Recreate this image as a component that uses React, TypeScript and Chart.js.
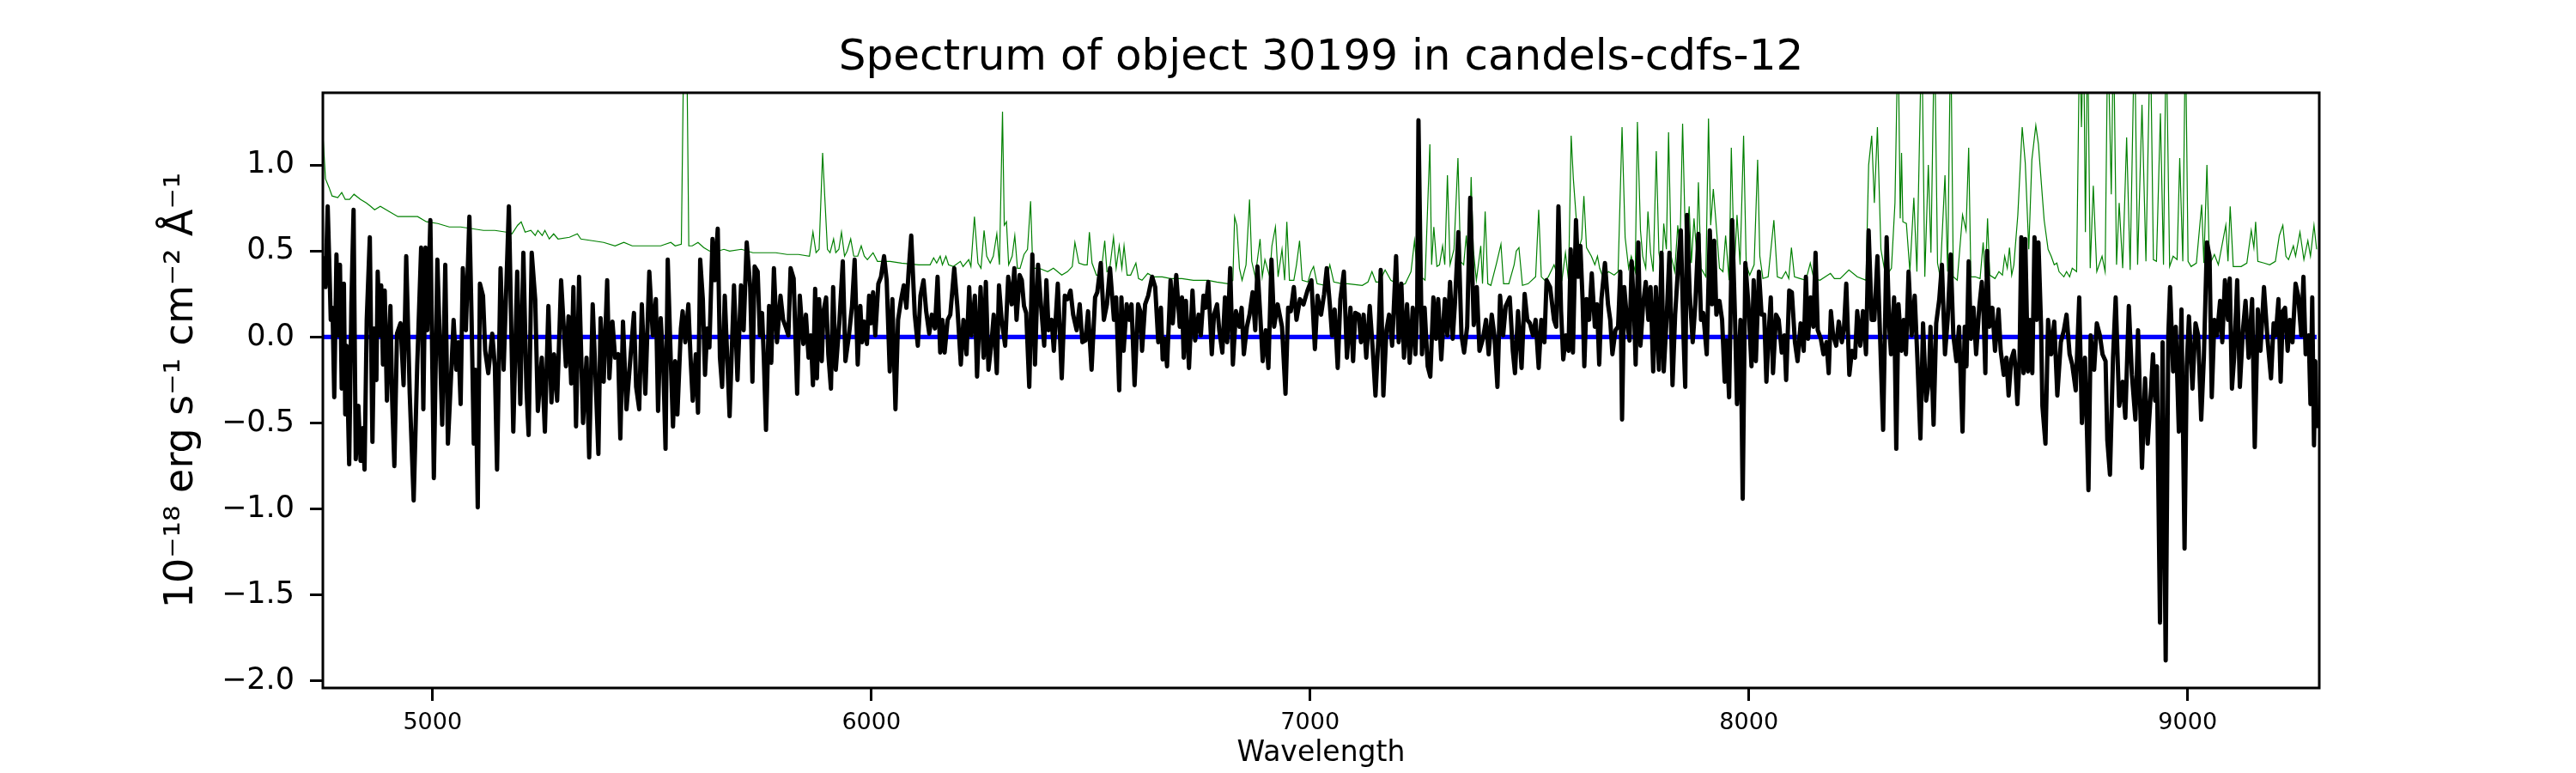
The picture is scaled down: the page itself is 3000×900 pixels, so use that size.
import { useEffect, useRef } from "react"
import { Chart, registerables } from "chart.js"

Chart.register(...registerables)

const FONT = "'DejaVu Sans', sans-serif"

const TITLE = "Spectrum of object 30199 in candels-cdfs-12"
const X_LABEL = "Wavelength"
const Y_LABEL = "10⁻¹⁸ erg s⁻¹ cm⁻² Å⁻¹"

const xTicks = [5000, 6000, 7000, 8000, 9000]
const yTicks = [-2.0, -1.5, -1.0, -0.5, 0.0, 0.5, 1.0]

// observed flux, [wavelength, value]
const fluxPoints: [number, number][] = [
  [4751, 0.47], [4756, 0.29], [4761, 0.76], [4765, 0.4], [4768, 0.1], [4772, 0.17], [4776, -0.35], [4781, 0.48], [4785, 0.01], [4789, 0.42],
  [4793, -0.3], [4798, 0.31], [4801, -0.45], [4804, -0.05], [4810, -0.74], [4815, 0.19], [4820, 0.74], [4825, -0.71], [4831, -0.4], [4836, -0.72],
  [4841, -0.53], [4845, -0.77], [4850, 0.1], [4857, 0.58], [4863, -0.61], [4867, 0.05], [4872, -0.25], [4875, 0.38], [4880, 0.01], [4883, 0.3],
  [4887, -0.16], [4891, 0.27], [4896, -0.37], [4904, 0.18], [4908, -0.37], [4913, -0.75], [4919, 0.02], [4927, 0.08], [4934, -0.28], [4940, 0.47],
  [4948, -0.33], [4957, -0.95], [4965, -0.17], [4974, 0.52], [4979, -0.42], [4984, 0.52], [4988, 0.04], [4995, 0.68], [5003, -0.82], [5011, 0.45],
  [5022, -0.51], [5029, 0.42], [5035, -0.62], [5042, -0.24], [5048, 0.1], [5054, -0.19], [5059, -0.03], [5064, -0.39], [5069, 0.4], [5076, 0.04],
  [5084, 0.7], [5089, 0.1], [5094, -0.62], [5098, -0.19], [5103, -0.99], [5108, 0.31], [5115, 0.24], [5120, -0.08], [5127, -0.21], [5136, 0.02],
  [5142, -0.17], [5147, -0.77], [5155, 0.4], [5162, -0.19], [5174, 0.76], [5184, -0.55], [5193, 0.38], [5200, -0.39], [5207, 0.49], [5214, -0.3],
  [5219, -0.57], [5226, 0.49], [5234, 0.22], [5240, -0.43], [5249, -0.12], [5256, -0.55], [5264, 0.18], [5271, -0.38], [5277, -0.1], [5284, -0.37],
  [5293, 0.33], [5304, -0.17], [5310, 0.12], [5316, -0.27], [5321, 0.29], [5327, -0.52], [5334, 0.35], [5343, -0.5], [5351, -0.12], [5357, -0.7],
  [5365, 0.19], [5372, -0.27], [5378, -0.68], [5383, 0.11], [5390, -0.26], [5398, 0.33], [5403, -0.24], [5410, 0.09], [5416, -0.12], [5423, -0.1],
  [5428, -0.59], [5434, 0.09], [5442, -0.42], [5451, -0.12], [5459, 0.14], [5464, -0.29], [5471, -0.42], [5477, 0.19], [5485, -0.33], [5494, 0.38],
  [5502, 0.01], [5509, 0.22], [5514, -0.43], [5520, 0.11], [5526, -0.17], [5531, -0.65], [5536, 0.45], [5543, -0.14], [5548, -0.52], [5553, -0.14],
  [5558, -0.45], [5566, 0.05], [5570, 0.15], [5576, -0.03], [5583, 0.19], [5588, -0.12], [5593, -0.37], [5600, -0.1], [5605, -0.44], [5610, 0.45],
  [5616, 0.22], [5621, -0.22], [5626, 0.05], [5631, -0.06], [5638, 0.57], [5643, 0.33], [5650, 0.63], [5655, -0.12], [5660, -0.29], [5666, 0.24],
  [5677, -0.46], [5687, 0.3], [5695, -0.25], [5703, 0.3], [5709, 0.04], [5716, 0.55], [5724, 0.29], [5729, -0.26], [5734, 0.41], [5741, 0.38],
  [5746, 0.01], [5751, 0.14], [5755, -0.12], [5760, -0.54], [5767, 0.18], [5772, -0.15], [5778, 0.4], [5785, -0.03], [5793, 0.24], [5799, 0.1],
  [5806, 0.05], [5811, 0.01], [5816, 0.4], [5823, 0.34], [5831, -0.33], [5837, 0.24], [5845, -0.04], [5851, 0.13], [5857, -0.12], [5862, 0.01],
  [5867, -0.28], [5872, 0.28], [5876, -0.24], [5881, 0.22], [5887, -0.14], [5891, 0.15], [5897, 0.23], [5902, -0.1], [5908, -0.3], [5913, 0.29],
  [5919, -0.19], [5927, 0.08], [5935, 0.44], [5941, -0.14], [5949, 0.01], [5956, 0.18], [5962, 0.45], [5969, -0.16], [5975, 0.18], [5979, -0.03],
  [5984, 0.09], [5990, -0.04], [5995, 0.24], [5999, 0.08], [6004, 0.26], [6009, 0.01], [6016, 0.31], [6022, 0.35], [6029, 0.47], [6035, 0.33],
  [6042, -0.2], [6048, 0.22], [6055, -0.42], [6061, 0.1], [6068, 0.22], [6074, 0.3], [6080, 0.17], [6085, 0.38], [6091, 0.59], [6099, 0.13],
  [6106, -0.05], [6112, 0.24], [6119, 0.33], [6125, 0.15], [6132, 0.02], [6138, 0.13], [6145, 0.05], [6151, 0.35], [6157, -0.09], [6162, 0.1],
  [6167, -0.09], [6174, 0.1], [6180, 0.13], [6189, 0.4], [6196, 0.18], [6204, -0.16], [6210, 0.1], [6217, -0.1], [6223, 0.29], [6228, 0.01],
  [6236, 0.24], [6241, -0.23], [6249, 0.29], [6256, -0.12], [6261, 0.32], [6267, -0.19], [6274, -0.03], [6279, 0.13], [6286, -0.21], [6291, 0.3],
  [6297, 0.1], [6305, -0.05], [6312, 0.35], [6320, 0.19], [6326, 0.4], [6331, 0.1], [6338, 0.36], [6343, 0.33], [6348, 0.18], [6353, 0.14],
  [6360, -0.29], [6367, 0.48], [6373, -0.16], [6380, 0.42], [6386, 0.21], [6394, -0.05], [6399, 0.33], [6404, 0.04], [6411, 0.1], [6416, -0.08],
  [6425, 0.31], [6434, -0.24], [6441, 0.24], [6447, 0.22], [6454, 0.27], [6460, 0.13], [6468, 0.04], [6475, 0.19], [6481, -0.03], [6488, -0.02],
  [6494, 0.15], [6502, -0.19], [6510, 0.23], [6515, 0.26], [6523, 0.43], [6530, 0.1], [6537, 0.19], [6544, 0.4], [6553, 0.1], [6558, 0.23],
  [6565, -0.31], [6570, 0.23], [6575, -0.08], [6582, 0.19], [6588, 0.1], [6593, 0.19], [6600, -0.28], [6608, 0.19], [6613, 0.15], [6617, -0.08],
  [6624, 0.19], [6631, 0.24], [6640, 0.35], [6647, 0.29], [6654, -0.03], [6660, 0.17], [6664, -0.13], [6669, -0.01], [6674, -0.17], [6682, 0.33],
  [6687, 0.08], [6695, 0.36], [6703, 0.06], [6708, 0.23], [6712, -0.12], [6717, 0.21], [6724, -0.18], [6732, 0.27], [6738, -0.02], [6746, 0.13],
  [6751, 0.01], [6757, 0.24], [6762, 0.17], [6768, 0.32], [6776, -0.1], [6781, 0.13], [6788, 0.19], [6793, 0.04], [6800, -0.09], [6806, 0.23],
  [6811, -0.03], [6818, 0.4], [6824, -0.16], [6831, 0.15], [6839, 0.06], [6844, 0.17], [6849, -0.1], [6856, 0.06], [6862, 0.13], [6869, 0.26],
  [6875, 0.04], [6880, 0.41], [6887, 0.1], [6892, -0.14], [6899, 0.04], [6905, -0.18], [6912, 0.45], [6918, 0.06], [6926, 0.19], [6936, 0.06],
  [6944, -0.33], [6950, 0.17], [6956, 0.15], [6963, 0.29], [6969, 0.1], [6977, 0.22], [6985, 0.19], [6994, 0.27], [7003, 0.33], [7011, -0.07],
  [7017, 0.24], [7025, 0.13], [7032, 0.25], [7038, 0.4], [7045, 0.19], [7050, 0.01], [7056, 0.16], [7063, -0.18], [7069, 0.22], [7077, 0.38],
  [7084, -0.12], [7092, 0.17], [7098, -0.14], [7103, 0.14], [7111, 0.13], [7116, -0.03], [7122, 0.13], [7128, -0.12], [7136, 0.18], [7143, -0.08],
  [7149, -0.34], [7156, 0.01], [7161, 0.39], [7167, -0.34], [7174, 0.04], [7180, 0.13], [7187, -0.05], [7196, 0.47], [7202, -0.03], [7208, 0.31],
  [7214, -0.12], [7221, 0.19], [7227, -0.15], [7234, 0.17], [7240, -0.1], [7244, 0.16], [7247, 1.26], [7251, 0.56], [7255, -0.1], [7261, 0.17],
  [7268, -0.17], [7274, -0.23], [7281, 0.23], [7287, -0.01], [7292, 0.22], [7299, -0.13], [7307, 0.22], [7313, 0.01], [7319, 0.32], [7325, -0.01],
  [7330, 0.19], [7338, 0.61], [7345, 0.01], [7351, -0.09], [7358, 0.06], [7365, 0.81], [7373, 0.07], [7380, 0.29], [7386, -0.08], [7394, -0.01],
  [7401, 0.1], [7407, -0.1], [7414, 0.13], [7420, 0.01], [7427, -0.29], [7433, 0.24], [7440, 0.01], [7446, 0.18], [7455, 0.23], [7462, -0.08],
  [7467, -0.21], [7474, 0.15], [7482, -0.18], [7489, 0.25], [7495, 0.1], [7501, 0.08], [7508, 0.01], [7514, 0.1], [7521, -0.18], [7527, 0.1],
  [7534, -0.03], [7539, 0.33], [7547, 0.29], [7556, 0.1], [7561, 0.06], [7566, 0.76], [7572, 0.15], [7577, -0.13], [7583, 0.01], [7589, -0.08],
  [7594, 0.51], [7599, -0.09], [7606, 0.68], [7611, 0.35], [7616, 0.53], [7621, 0.22], [7625, -0.17], [7630, 0.22], [7636, 0.1], [7642, 0.37],
  [7649, 0.06], [7654, 0.19], [7659, -0.16], [7664, 0.22], [7672, 0.43], [7679, 0.19], [7684, 0.1], [7689, -0.1], [7696, 0.04], [7702, 0.06],
  [7707, 0.38], [7711, -0.48], [7716, 0.29], [7723, 0.08], [7728, -0.02], [7733, 0.44], [7739, 0.1], [7742, -0.16], [7748, 0.55], [7753, -0.05],
  [7759, 0.19], [7765, 0.32], [7771, 0.1], [7776, 0.29], [7782, -0.2], [7788, 0.29], [7795, -0.19], [7801, 0.49], [7806, -0.2], [7813, 0.13],
  [7819, 0.49], [7826, -0.28], [7832, 0.13], [7839, 0.42], [7845, 0.62], [7851, 0.01], [7855, -0.29], [7859, 0.71], [7865, 0.26], [7872, -0.03],
  [7878, 0.19], [7885, 0.6], [7891, 0.1], [7896, 0.14], [7904, -0.1], [7911, 0.62], [7916, 0.19], [7921, 0.56], [7926, 0.13], [7933, 0.21],
  [7939, 0.1], [7945, -0.26], [7949, -0.02], [7955, -0.35], [7962, 0.68], [7968, 0.15], [7973, -0.39], [7981, 0.1], [7986, -0.94], [7992, 0.43],
  [7999, 0.19], [8006, -0.17], [8011, 0.33], [8016, -0.14], [8023, 0.38], [8029, 0.13], [8035, 0.13], [8040, -0.26], [8046, 0.06], [8050, 0.23],
  [8055, -0.21], [8062, 0.13], [8068, 0.1], [8075, -0.09], [8081, 0.01], [8085, -0.25], [8092, 0.27], [8098, 0.26], [8105, -0.03], [8111, -0.14],
  [8118, 0.08], [8125, -0.08], [8130, 0.35], [8135, -0.01], [8141, 0.23], [8147, 0.06], [8152, 0.49], [8157, 0.04], [8164, -0.01], [8170, -0.1],
  [8177, -0.03], [8182, -0.21], [8187, 0.15], [8192, 0.01], [8199, -0.05], [8205, 0.09], [8212, -0.03], [8217, 0.06], [8222, 0.31], [8229, -0.22],
  [8235, -0.08], [8242, -0.12], [8247, 0.15], [8254, -0.05], [8260, 0.15], [8267, -0.1], [8273, 0.62], [8280, 0.1], [8286, 0.1], [8293, 0.47],
  [8299, 0.01], [8306, -0.54], [8314, 0.58], [8320, 0.06], [8324, -0.1], [8331, 0.23], [8336, -0.65], [8341, 0.19], [8348, -0.08], [8353, 0.1],
  [8358, -0.1], [8364, 0.38], [8371, 0.01], [8378, 0.24], [8384, -0.12], [8391, -0.59], [8397, 0.08], [8404, -0.37], [8410, -0.26], [8414, 0.06],
  [8421, -0.51], [8427, 0.08], [8434, 0.22], [8440, 0.42], [8447, -0.1], [8453, 0.1], [8460, 0.48], [8466, 0.01], [8473, -0.14], [8479, 0.06],
  [8487, -0.55], [8492, 0.06], [8496, -0.17], [8501, 0.44], [8506, -0.01], [8512, 0.17], [8518, -0.1], [8525, 0.17], [8531, 0.32], [8535, 0.13],
  [8539, -0.21], [8543, 0.5], [8548, 0.06], [8555, 0.17], [8561, -0.08], [8569, 0.16], [8574, -0.08], [8581, -0.22], [8587, -0.12], [8592, -0.34],
  [8598, -0.13], [8604, -0.08], [8608, -0.19], [8612, -0.39], [8617, -0.12], [8621, 0.58], [8626, -0.21], [8630, 0.57], [8636, -0.2], [8641, 0.1],
  [8646, -0.21], [8651, 0.58], [8656, 0.1], [8660, 0.55], [8666, 0.06], [8669, -0.4], [8676, -0.62], [8682, 0.1], [8689, -0.1], [8696, 0.09],
  [8703, -0.34], [8711, -0.03], [8718, 0.04], [8724, 0.13], [8731, -0.1], [8737, -0.16], [8745, -0.31], [8753, 0.23], [8759, -0.5], [8766, -0.12],
  [8769, -0.39], [8774, -0.89], [8779, 0.01], [8787, -0.19], [8793, 0.08], [8800, 0.01], [8806, -0.1], [8813, -0.14], [8817, -0.6], [8823, -0.8],
  [8830, -0.12], [8836, 0.23], [8844, -0.4], [8852, -0.26], [8858, -0.47], [8866, 0.18], [8873, -0.22], [8881, -0.48], [8887, 0.04], [8896, -0.76],
  [8903, -0.24], [8909, -0.62], [8916, -0.33], [8921, -0.1], [8926, -0.37], [8930, -0.17], [8937, -1.66], [8943, -0.03], [8950, -1.88], [8956, 0.01],
  [8960, 0.29], [8967, -0.2], [8973, 0.06], [8980, -0.55], [8986, 0.16], [8993, -1.23], [8998, -0.17], [9003, 0.12], [9011, -0.3], [9018, 0.08],
  [9024, 0.01], [9031, -0.48], [9037, -0.12], [9044, 0.55], [9050, 0.47], [9055, -0.35], [9061, 0.1], [9067, 0.01], [9074, 0.21], [9079, -0.03],
  [9085, 0.33], [9092, 0.1], [9096, 0.34], [9101, -0.3], [9106, -0.12], [9113, 0.33], [9119, -0.29], [9126, 0.04], [9132, 0.21], [9139, -0.12],
  [9147, 0.22], [9153, -0.64], [9160, 0.16], [9166, -0.08], [9174, 0.29], [9182, -0.01], [9190, -0.24], [9196, 0.08], [9201, 0.01], [9207, 0.22],
  [9212, -0.26], [9217, 0.15], [9222, 0.17], [9228, -0.08], [9233, 0.1], [9239, -0.03], [9246, 0.31], [9252, 0.24], [9259, 0.01], [9264, 0.35],
  [9269, -0.1], [9276, 0.01], [9280, -0.39], [9284, 0.23], [9288, -0.63], [9291, -0.14], [9294, -0.53],
]

// flux uncertainty, [wavelength, value]; sky lines run off the top of the axes
const errorPoints: [number, number][] = [
  [4750, 1.18], [4756, 0.92], [4764, 0.87], [4771, 0.82], [4784, 0.81], [4793, 0.84], [4801, 0.8], [4811, 0.8], [4821, 0.83], [4836, 0.8],
  [4849, 0.78], [4859, 0.76], [4868, 0.74], [4881, 0.76], [4901, 0.73], [4921, 0.7], [4947, 0.7], [4966, 0.7], [4986, 0.67], [5012, 0.66],
  [5038, 0.64], [5064, 0.64], [5090, 0.63], [5116, 0.62], [5142, 0.62], [5168, 0.61], [5181, 0.6], [5194, 0.65], [5202, 0.67], [5211, 0.61],
  [5224, 0.62], [5234, 0.59], [5240, 0.62], [5250, 0.59], [5256, 0.62], [5266, 0.57], [5276, 0.6], [5286, 0.57], [5312, 0.58], [5330, 0.6],
  [5338, 0.57], [5364, 0.56], [5390, 0.55], [5416, 0.53], [5436, 0.55], [5455, 0.53], [5488, 0.53], [5520, 0.53], [5543, 0.55], [5553, 0.53],
  [5567, 0.54], [5573, 1.8], [5579, 1.8], [5584, 0.53], [5592, 0.53], [5605, 0.55], [5618, 0.52], [5631, 0.5], [5651, 0.5], [5664, 0.51],
  [5677, 0.5], [5704, 0.51], [5730, 0.49], [5756, 0.49], [5782, 0.49], [5808, 0.48], [5834, 0.48], [5859, 0.47], [5867, 0.61], [5874, 0.49],
  [5881, 0.51], [5889, 1.07], [5894, 0.81], [5900, 0.51], [5906, 0.49], [5914, 0.57], [5919, 0.49], [5926, 0.51], [5932, 0.61], [5939, 0.47],
  [5945, 0.5], [5953, 0.57], [5960, 0.47], [5969, 0.47], [5977, 0.53], [5984, 0.47], [5991, 0.45], [6004, 0.49], [6014, 0.44], [6043, 0.44],
  [6069, 0.43], [6108, 0.42], [6134, 0.42], [6142, 0.46], [6149, 0.43], [6157, 0.47], [6162, 0.42], [6170, 0.47], [6176, 0.42], [6187, 0.41],
  [6203, 0.44], [6209, 0.41], [6222, 0.45], [6227, 0.41], [6235, 0.7], [6243, 0.43], [6250, 0.4], [6257, 0.62], [6263, 0.47], [6271, 0.43],
  [6278, 0.47], [6286, 0.6], [6292, 0.42], [6299, 1.31], [6303, 0.65], [6308, 0.67], [6313, 0.42], [6321, 0.47], [6327, 0.59], [6333, 0.4],
  [6339, 0.4], [6348, 0.48], [6356, 0.51], [6363, 0.79], [6368, 0.4], [6382, 0.4], [6402, 0.38], [6415, 0.4], [6434, 0.36], [6447, 0.38],
  [6458, 0.41], [6464, 0.55], [6473, 0.43], [6485, 0.42], [6492, 0.42], [6497, 0.61], [6503, 0.43], [6513, 0.36], [6523, 0.36], [6532, 0.56],
  [6537, 0.38], [6543, 0.39], [6552, 0.58], [6558, 0.4], [6565, 0.53], [6571, 0.4], [6576, 0.53], [6583, 0.36], [6591, 0.36], [6603, 0.43],
  [6609, 0.34], [6617, 0.33], [6630, 0.37], [6643, 0.35], [6663, 0.35], [6682, 0.34], [6708, 0.34], [6734, 0.33], [6767, 0.33], [6787, 0.32],
  [6813, 0.31], [6824, 0.33], [6828, 0.7], [6833, 0.65], [6839, 0.4], [6845, 0.33], [6854, 0.42], [6862, 0.8], [6867, 0.44], [6875, 0.35],
  [6886, 0.57], [6891, 0.35], [6897, 0.45], [6908, 0.35], [6913, 0.53], [6921, 0.64], [6927, 0.35], [6936, 0.51], [6942, 0.33], [6947, 0.67],
  [6953, 0.33], [6963, 0.33], [6969, 0.42], [6976, 0.56], [6982, 0.33], [6995, 0.32], [7002, 0.38], [7008, 0.41], [7016, 0.31], [7034, 0.3],
  [7045, 0.42], [7054, 0.32], [7073, 0.31], [7086, 0.31], [7119, 0.3], [7132, 0.32], [7141, 0.38], [7150, 0.32], [7158, 0.32], [7171, 0.39],
  [7184, 0.33], [7204, 0.3], [7217, 0.31], [7230, 0.38], [7238, 0.56], [7246, 0.33], [7253, 0.35], [7262, 0.33], [7273, 1.12], [7277, 0.42],
  [7282, 0.64], [7289, 0.41], [7295, 0.42], [7302, 0.53], [7307, 0.42], [7313, 0.94], [7319, 0.42], [7328, 0.51], [7337, 1.04], [7343, 0.44],
  [7350, 0.42], [7356, 0.59], [7362, 0.35], [7367, 0.93], [7372, 0.51], [7379, 0.33], [7389, 0.53], [7393, 0.31], [7399, 0.73], [7405, 0.31],
  [7412, 0.3], [7425, 0.43], [7435, 0.54], [7441, 0.31], [7453, 0.31], [7465, 0.42], [7470, 0.5], [7476, 0.52], [7484, 0.3], [7497, 0.31],
  [7514, 0.35], [7521, 0.74], [7527, 0.35], [7535, 0.33], [7543, 0.35], [7556, 0.42], [7565, 0.35], [7574, 0.33], [7582, 0.49], [7589, 0.33],
  [7595, 1.17], [7600, 0.92], [7606, 0.71], [7612, 0.51], [7619, 0.57], [7624, 0.82], [7630, 0.52], [7641, 0.47], [7649, 0.42], [7655, 0.47],
  [7660, 0.4], [7667, 0.35], [7680, 0.38], [7693, 0.36], [7702, 0.38], [7711, 1.22], [7718, 0.58], [7726, 0.4], [7732, 0.47], [7741, 0.38],
  [7746, 1.25], [7753, 0.62], [7758, 0.47], [7765, 0.4], [7770, 0.73], [7776, 0.49], [7782, 0.38], [7789, 1.08], [7795, 0.49], [7802, 0.38],
  [7806, 0.66], [7812, 0.51], [7817, 1.19], [7823, 0.47], [7831, 0.38], [7838, 0.65], [7843, 0.51], [7849, 1.24], [7856, 0.49], [7864, 0.76],
  [7869, 0.43], [7875, 0.69], [7881, 0.49], [7885, 0.9], [7891, 0.4], [7902, 0.35], [7908, 1.27], [7913, 0.65], [7919, 0.86], [7925, 0.67],
  [7933, 0.4], [7941, 0.38], [7947, 0.59], [7955, 0.33], [7960, 1.1], [7967, 0.4], [7973, 0.71], [7980, 0.42], [7988, 1.17], [7994, 0.42],
  [8002, 0.36], [8012, 0.42], [8020, 1.03], [8025, 0.47], [8032, 0.34], [8044, 0.35], [8057, 0.68], [8065, 0.35], [8075, 0.34], [8084, 0.38],
  [8091, 0.34], [8097, 0.52], [8104, 0.35], [8117, 0.34], [8130, 0.33], [8140, 0.43], [8148, 0.34], [8162, 0.33], [8186, 0.37], [8195, 0.34],
  [8208, 0.34], [8228, 0.39], [8247, 0.35], [8267, 0.33], [8273, 1.0], [8280, 1.17], [8286, 0.78], [8293, 1.22], [8301, 0.51], [8312, 0.35],
  [8325, 0.4], [8333, 0.78], [8340, 1.8], [8345, 0.69], [8348, 1.07], [8351, 0.67], [8359, 0.66], [8367, 0.38], [8376, 0.81], [8383, 0.38],
  [8394, 1.8], [8401, 0.35], [8409, 1.0], [8415, 0.49], [8423, 1.8], [8430, 0.43], [8436, 0.35], [8447, 0.94], [8453, 0.38], [8460, 1.8],
  [8466, 0.35], [8475, 0.33], [8487, 0.71], [8495, 0.62], [8501, 1.1], [8506, 0.35], [8516, 0.35], [8527, 0.34], [8534, 0.55], [8539, 0.35],
  [8544, 0.69], [8549, 0.36], [8561, 0.34], [8570, 0.38], [8578, 0.36], [8583, 0.47], [8589, 0.4], [8594, 0.52], [8599, 0.36], [8604, 0.42],
  [8613, 0.71], [8623, 1.22], [8630, 1.01], [8638, 0.51], [8645, 1.03], [8654, 1.23], [8660, 1.12], [8667, 0.88], [8673, 0.68], [8682, 0.51],
  [8689, 0.47], [8696, 0.42], [8702, 0.43], [8707, 0.38], [8718, 0.35], [8724, 0.38], [8731, 0.35], [8737, 0.4], [8747, 0.38], [8754, 1.8],
  [8758, 1.22], [8763, 1.8], [8767, 0.61], [8772, 1.8], [8778, 0.4], [8785, 0.88], [8793, 0.38], [8805, 0.47], [8812, 0.38], [8818, 1.8],
  [8826, 0.83], [8831, 1.8], [8838, 0.42], [8844, 0.78], [8852, 0.4], [8861, 1.16], [8869, 0.39], [8879, 1.8], [8886, 0.42], [8896, 1.35],
  [8905, 0.44], [8915, 1.8], [8922, 0.45], [8929, 0.44], [8938, 1.3], [8945, 0.42], [8951, 1.8], [8959, 0.41], [8967, 0.47], [8976, 0.45],
  [8982, 1.04], [8989, 0.44], [8995, 1.8], [9001, 0.44], [9008, 0.41], [9020, 0.43], [9032, 0.77], [9037, 0.43], [9044, 1.0], [9050, 0.42],
  [9061, 0.48], [9070, 0.42], [9087, 0.65], [9092, 0.44], [9097, 0.76], [9104, 0.41], [9122, 0.41], [9135, 0.43], [9145, 0.62], [9151, 0.52],
  [9155, 0.67], [9160, 0.44], [9174, 0.43], [9187, 0.42], [9200, 0.44], [9209, 0.59], [9217, 0.65], [9224, 0.47], [9230, 0.45], [9241, 0.53],
  [9246, 0.47], [9256, 0.61], [9265, 0.45], [9274, 0.56], [9280, 0.47], [9288, 0.65], [9294, 0.51],
]

// model / zero level
const zeroPoints: [number, number][] = [
  [4751, 0],
  [9294, 0],
]

const toXY = (pts: [number, number][]) => pts.map(([x, y]) => ({ x, y }))

// matplotlib-style box around the axes
const framePlugin = {
  id: "frame",
  afterDatasetsDraw(chart: Chart) {
    const { ctx, chartArea } = chart
    ctx.save()
    ctx.strokeStyle = "#000"
    ctx.lineWidth = 3
    ctx.strokeRect(chartArea.left, chartArea.top, chartArea.right - chartArea.left, chartArea.bottom - chartArea.top)
    ctx.restore()
  },
}

export default function App() {
  const canvasRef = useRef<HTMLCanvasElement>(null)

  useEffect(() => {
    const ctx = canvasRef.current?.getContext("2d")
    if (!ctx) return

    const chart = new Chart(ctx, {
      type: "line",
      data: {
        datasets: [
          {
            label: "flux",
            data: toXY(fluxPoints),
            borderColor: "#000000",
            borderWidth: 5,
            borderJoinStyle: "round",
            pointRadius: 0,
            tension: 0,
            order: 0,
          },
          {
            label: "zero",
            data: toXY(zeroPoints),
            borderColor: "#0000ff",
            borderWidth: 5.3,
            pointRadius: 0,
            order: 1,
          },
          {
            label: "error",
            data: toXY(errorPoints),
            borderColor: "#008000",
            borderWidth: 1.2,
            pointRadius: 0,
            tension: 0,
            order: 2,
          },
        ],
      },
      options: {
        responsive: false,
        animation: false,
        devicePixelRatio: 1,
        events: [],
        layout: { padding: { left: 0, right: 299, top: 0, bottom: 0 } },
        plugins: {
          legend: { display: false },
          tooltip: { enabled: false },
          title: {
            display: true,
            text: TITLE,
            color: "#000",
            fullSize: false,
            font: { family: FONT, size: 50, weight: "normal", lineHeight: 1.2 },
            padding: { top: 38, bottom: 10 },
          },
        },
        scales: {
          x: {
            type: "linear",
            min: 4750,
            max: 9300,
            afterFit: (scale: any) => {
              scale.height = 99
            },
            afterBuildTicks: (scale: any) => {
              scale.ticks = xTicks.map((value) => ({ value }))
            },
            border: { display: false },
            grid: { drawOnChartArea: false, tickLength: 15, tickWidth: 3, tickColor: "#000" },
            ticks: {
              color: "#000",
              font: { family: FONT, size: 27 },
              padding: 10,
              maxRotation: 0,
              autoSkip: false,
              callback: (v: any) => String(v),
            },
            title: {
              display: true,
              text: X_LABEL,
              color: "#000",
              font: { family: FONT, size: 33, lineHeight: 1.2 },
              padding: { top: 0, bottom: 3 },
            },
          },
          y: {
            min: -2.04,
            max: 1.42,
            afterFit: (scale: any) => {
              scale.width = 376
            },
            afterBuildTicks: (scale: any) => {
              scale.ticks = yTicks.map((value) => ({ value }))
            },
            border: { display: false },
            grid: { drawOnChartArea: false, tickLength: 15, tickWidth: 3, tickColor: "#000" },
            ticks: {
              color: "#000",
              font: { family: FONT, size: 35 },
              padding: 18,
              autoSkip: false,
              callback: (v: any) => (v < 0 ? "\u2212" : "") + Math.abs(v).toFixed(1),
            },
            title: {
              display: true,
              text: Y_LABEL,
              color: "#000",
              font: { family: FONT, size: 46, lineHeight: 1.2 },
              padding: { top: 184, bottom: 0 },
            },
          },
        },
      },
      plugins: [framePlugin],
    })

    return () => {
      chart.destroy()
    }
  }, [])

  return (
    <div style={{ position: "absolute", left: 0, top: 0, width: 3000, height: 900, background: "#fff" }}>
      <canvas ref={canvasRef} width={3000} height={900} style={{ width: 3000, height: 900 }} />
    </div>
  )
}
